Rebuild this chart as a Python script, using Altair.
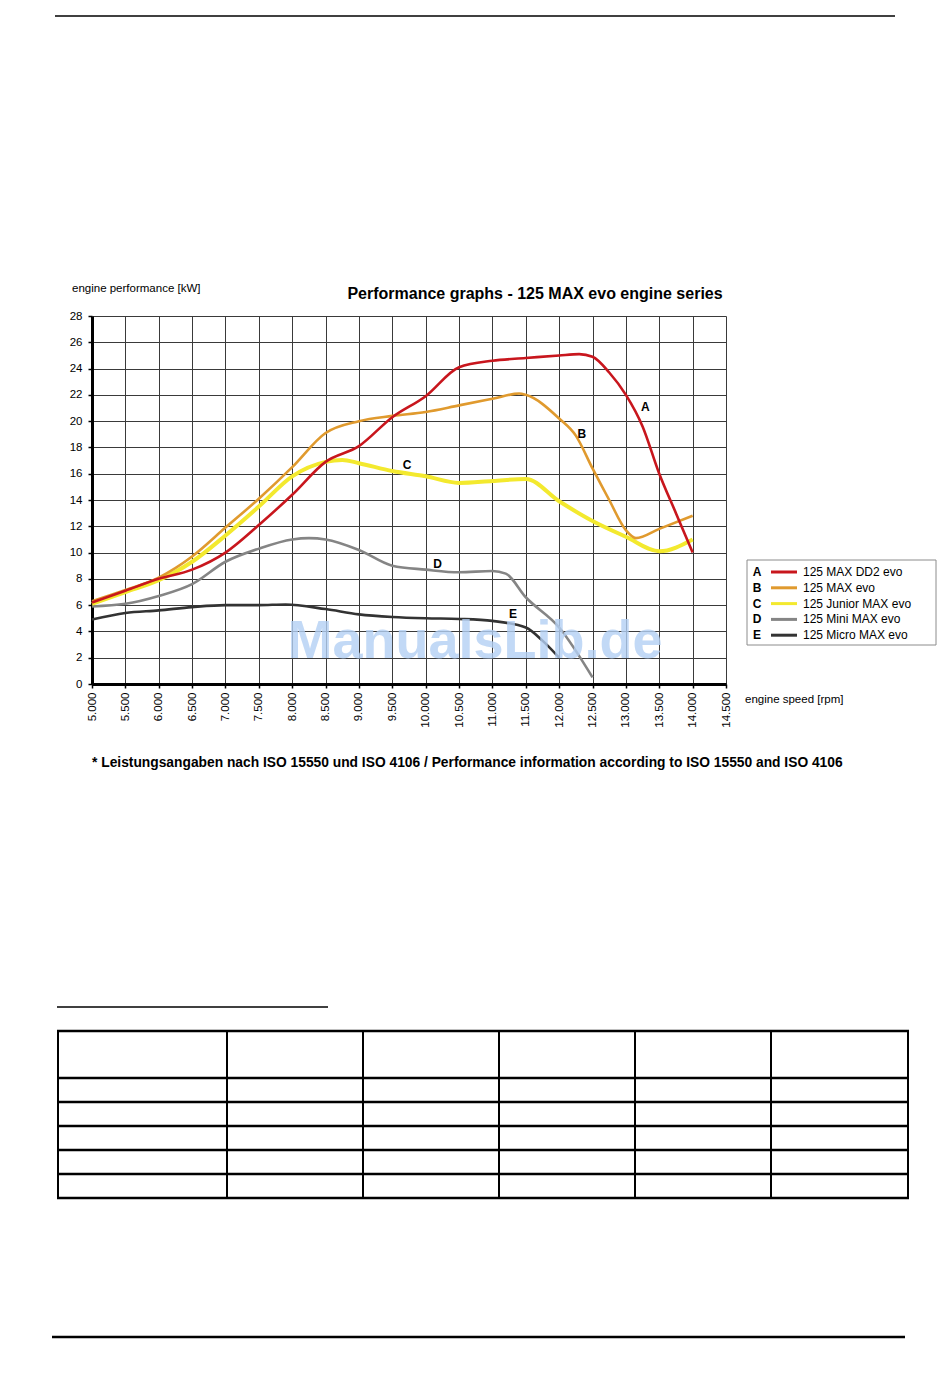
import altair as alt
import pandas as pd

# ---------------- data ----------------
series_names = ["125 MAX DD2 evo", "125 MAX evo", "125 Junior MAX evo", "125 Mini MAX evo", "125 Micro MAX evo"]
series_letters = ["A", "B", "C", "D", "E"]
series_colors = ["#c8161d", "#e09a2e", "#f3e92e", "#858585", "#333333"]

rpm_A = [5000, 5500, 6000, 6500, 7000, 7500, 8000, 8500, 9000, 9500, 10000, 10500, 11000, 11500, 12000, 12300, 12500, 12750, 13000, 13250, 13500, 13750, 14000]
kw_A = [6.2, 7.1, 8.0, 8.7, 10.0, 12.1, 14.4, 16.9, 18.1, 20.3, 21.9, 24.1, 24.6, 24.8, 25.0, 25.1, 24.9, 23.7, 22.0, 19.6, 16.0, 13.0, 10.0]

rpm_B = [5000, 5500, 6000, 6500, 7000, 7500, 8000, 8500, 9000, 9500, 10000, 10500, 11000, 11400, 11500, 12000, 12250, 12500, 12750, 13000, 13150, 13500, 14000]
kw_B = [6.3, 7.15, 8.1, 9.7, 11.9, 14.1, 16.5, 19.1, 20.0, 20.4, 20.7, 21.2, 21.7, 22.1, 22.0, 20.2, 18.9, 16.4, 14.0, 11.7, 11.1, 11.8, 12.8]

rpm_C = [5000, 5500, 6000, 6500, 7000, 7500, 8000, 8500, 8750, 9000, 9500, 10000, 10500, 11000, 11500, 12000, 12500, 13000, 13500, 14000]
kw_C = [6.1, 7.0, 7.9, 9.3, 11.3, 13.5, 15.8, 16.9, 17.05, 16.8, 16.2, 15.8, 15.3, 15.45, 15.6, 13.9, 12.4, 11.2, 10.1, 11.0]

rpm_D = [5000, 5500, 6000, 6500, 7000, 7500, 8000, 8250, 8500, 9000, 9500, 10000, 10500, 11000, 11200, 11500, 12000, 12500]
kw_D = [5.9, 6.1, 6.7, 7.6, 9.3, 10.3, 11.0, 11.1, 11.0, 10.2, 9.0, 8.7, 8.5, 8.6, 8.4, 6.6, 4.3, 0.5]

rpm_E = [5000, 5500, 6000, 6500, 7000, 7500, 7900, 8500, 9000, 9500, 10000, 10500, 11000, 11500, 11750, 12000]
kw_E = [4.9, 5.4, 5.6, 5.85, 6.0, 6.0, 6.05, 5.7, 5.3, 5.1, 5.0, 4.95, 4.8, 4.3, 3.3, 2.0]

label_rpm = [13290, 12340, 9720, 10180, 11310]
label_kw = [21.1, 19.0, 16.7, 9.1, 5.3]

x_ticks = list(range(5000, 14501, 500))
y_ticks = list(range(0, 29, 2))

title_text = "Performance graphs - 125 MAX evo engine series"
y_title = "engine performance [kW]"
x_title = "engine speed [rpm]"
footnote = "* Leistungsangaben nach ISO 15550 und ISO 4106 / Performance information according to ISO 15550 and ISO 4106"
watermark = "ManualsLib.de"

# ---------------- build tables ----------------
all_rpm = [rpm_A, rpm_B, rpm_C, rpm_D, rpm_E]
all_kw = [kw_A, kw_B, kw_C, kw_D, kw_E]
frames = []
for name, r, k in zip(series_names, all_rpm, all_kw):
    frames.append(pd.DataFrame({"series": name, "rpm": r, "kw": k}))
df = pd.concat(frames, ignore_index=True)
labels_df = pd.DataFrame({"letter": series_letters, "rpm": label_rpm, "kw": label_kw})
one = pd.DataFrame({"a": [0]})

FONT = "Liberation Sans"

x_enc = alt.X(
    "rpm:Q",
    scale=alt.Scale(domain=[5000, 14500], nice=False, zero=False),
    axis=alt.Axis(
        values=x_ticks,
        labelExpr="replace(format(datum.value, ','), ',', '.')",
        labelAngle=270,
        labelPadding=4,
        labelOverlap=False,
        title=None,
    ),
)
y_enc = alt.Y(
    "kw:Q",
    scale=alt.Scale(domain=[0, 28], nice=False),
    axis=alt.Axis(values=y_ticks, title=None, labelPadding=6, labelOverlap=False),
)

layers = []
widths = [2.6, 2.6, 4.0, 2.6, 2.6]
# draw E first, A last
for i in [4, 3, 2, 1, 0]:
    layers.append(
        alt.Chart(df)
        .transform_filter(alt.datum.series == series_names[i])
        .mark_line(interpolate="monotone", color=series_colors[i], strokeWidth=widths[i])
        .encode(x=x_enc, y=y_enc)
    )

layers.append(
    alt.Chart(labels_df)
    .mark_text(font=FONT, fontSize=12, fontWeight="bold", color="black")
    .encode(x=x_enc, y=y_enc, text="letter:N")
)

# watermark
layers.append(
    alt.Chart(one)
    .mark_text(font=FONT, fontSize=54, fontWeight="bold", color="#b4d0f4", opacity=0.8,
               align="center", baseline="alphabetic", text=watermark)
    .encode(x=alt.value(383), y=alt.value(342))
)

# texts around the plot
def txt(text, x, y, size, weight="normal", align="left"):
    return (
        alt.Chart(one)
        .mark_text(font=FONT, fontSize=size, fontWeight=weight, color="black",
                   align=align, baseline="middle", text=text)
        .encode(x=alt.value(x), y=alt.value(y))
    )

layers.append(txt(title_text, 443, -22, 16, "bold", "center"))
layers.append(txt(y_title, -20, -27, 11.5))
layers.append(txt(x_title, 653, 384, 11.5))
layers.append(txt(footnote, 0, 447, 13.8, "bold"))

# legend box
layers.append(
    alt.Chart(one)
    .mark_rect(fill="white", stroke="#8c8c8c", strokeWidth=1)
    .encode(x=alt.value(655), x2=alt.value(844), y=alt.value(244), y2=alt.value(329))
)
for i in range(5):
    yy = 256 + i * 15.8
    layers.append(txt(series_letters[i], 665, yy, 12, "bold", "center"))
    layers.append(
        alt.Chart(one)
        .mark_rule(color=series_colors[i], strokeWidth=3)
        .encode(x=alt.value(679), x2=alt.value(705), y=alt.value(yy))
    )
    layers.append(txt(series_names[i], 711, yy, 12))

# page decoration: rules and empty table
def hline(x1, x2, y, w):
    return (
        alt.Chart(one)
        .mark_rule(color="black", strokeWidth=w)
        .encode(x=alt.value(x1), x2=alt.value(x2), y=alt.value(y))
    )

def vline(x, y1, y2, w):
    return (
        alt.Chart(one)
        .mark_rule(color="black", strokeWidth=w)
        .encode(x=alt.value(x), y=alt.value(y1), y2=alt.value(y2))
    )

layers.append(hline(-37, 803, -300, 1.3))
layers.append(hline(-35, 236, 691, 1.3))
layers.append(hline(-40, 813, 1021, 2.5))
for cx in [-34, 135, 271, 407, 543, 679, 816]:
    layers.append(vline(cx, 715, 882, 2))
for ry in [715, 762, 786, 810, 834, 858, 882]:
    layers.append(hline(-35, 817, ry, 2.5))

chart = (
    alt.layer(*layers)
    .properties(
        width=634,
        height=368,
        autosize=alt.AutoSizeParams(type="none"),
        padding={"left": 84, "top": 308, "right": 216, "bottom": 679},
    )
    .configure_view(stroke=None)
    .configure_axis(
        labelFont=FONT,
        labelFontSize=11.5,
        labelColor="black",
        domainColor="black",
        domainWidth=3,
        tickColor="black",
        tickSize=4,
        tickWidth=1.5,
        grid=True,
        gridColor="#3a3a3a",
        gridWidth=1,
        gridOpacity=1,
    )
)

chart.save("out.html", embed_options={"renderer": "svg", "actions": False})
